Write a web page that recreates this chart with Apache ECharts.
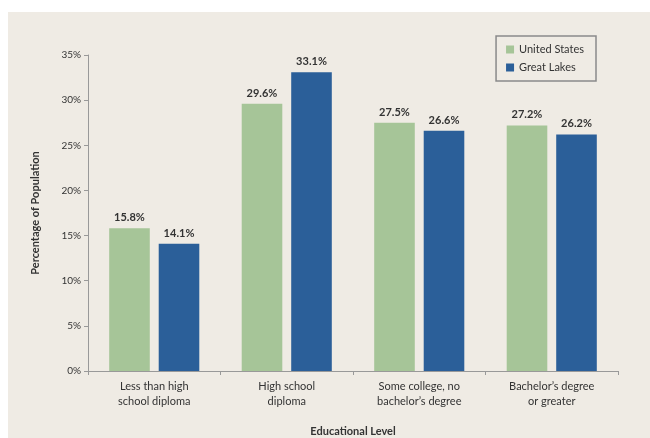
<!DOCTYPE html>
<html>
<head>
<meta charset="utf-8">
<script src="https://cdn.jsdelivr.net/npm/echarts@6/dist/echarts.min.js"></script>
<style>
html, body { margin: 0; padding: 0; background: #fff; }
#main { width: 650px; height: 438px; }
</style>
</head>
<body>
<div id="main"></div>
<script>
var categories = ['Less than high\nschool diploma', 'High school\ndiploma', 'Some college, no\nbachelor\u2019s degree', 'Bachelor\u2019s degree\nor greater'];
var unitedStates = [15.8, 29.6, 27.5, 27.2];
var greatLakes = [14.1, 33.1, 26.6, 26.2];
var yTicks = [0, 5, 10, 15, 20, 25, 30, 35];

var font = 'Lato, "Open Sans", sans-serif';
var chart = echarts.init(document.getElementById('main'));

function barLabel() {
	return {
		show: true,
		position: 'top',
		distance: 5,
		color: '#333',
		fontWeight: 'bold',
		fontSize: 11,
		fontFamily: font,
		formatter: function (p) { return p.value.toFixed(1) + '%'; }
	};
}

var option = {
	backgroundColor: '#fff',
	animation: false,
	textStyle: { fontFamily: font },
	graphic: [{
		type: 'rect',
		z: -10,
		shape: { x: 8, y: 12, width: 642, height: 426 },
		style: { fill: '#efebe4' }
	}],
	grid: {
		left: 88,
		right: 32,
		top: 55,
		bottom: 67,
		containLabel: false,
		outerBoundsMode: 'none'
	},
	legend: {
		orient: 'vertical',
		right: 54,
		top: 36,
		width: 106,
		itemWidth: 8,
		itemHeight: 8,
		itemGap: 7,
		icon: 'rect',
		padding: [8, 12, 8, 10],
		borderColor: '#8a8a8a',
		borderWidth: 1.5,
		textStyle: { fontSize: 11, color: '#333', fontFamily: font },
		data: ['United States', 'Great Lakes']
	},
	xAxis: {
		type: 'category',
		data: categories,
		name: 'Educational Level',
		nameLocation: 'middle',
		nameGap: 55,
		nameTextStyle: { fontSize: 11, fontWeight: 'bold', color: '#333', fontFamily: font },
		axisLine: { lineStyle: { color: '#999' } },
		axisTick: { show: true, length: 4, lineStyle: { color: '#999' } },
		axisLabel: { fontSize: 11, color: '#333', lineHeight: 15, margin: 8, fontFamily: font }
	},
	yAxis: {
		type: 'value',
		min: yTicks[0],
		max: yTicks[yTicks.length - 1],
		interval: 5,
		name: 'Percentage of Population',
		nameLocation: 'middle',
		nameGap: 47,
		nameTextStyle: { fontSize: 11, fontWeight: 'bold', color: '#333', fontFamily: font },
		axisLine: { show: true, lineStyle: { color: '#999' } },
		axisTick: { show: true, length: 4, lineStyle: { color: '#999' } },
		splitLine: { show: false },
		axisLabel: { fontSize: 10, color: '#333', margin: 7, formatter: '{value}%', fontFamily: font }
	},
	series: [{
		name: 'United States',
		type: 'bar',
		data: unitedStates,
		itemStyle: { color: '#a6c598' },
		barGap: '22%',
		barCategoryGap: '32%',
		label: barLabel()
	}, {
		name: 'Great Lakes',
		type: 'bar',
		data: greatLakes,
		itemStyle: { color: '#2b5f99' },
		label: barLabel()
	}]
};

chart.setOption(option);
</script>
</body>
</html>
